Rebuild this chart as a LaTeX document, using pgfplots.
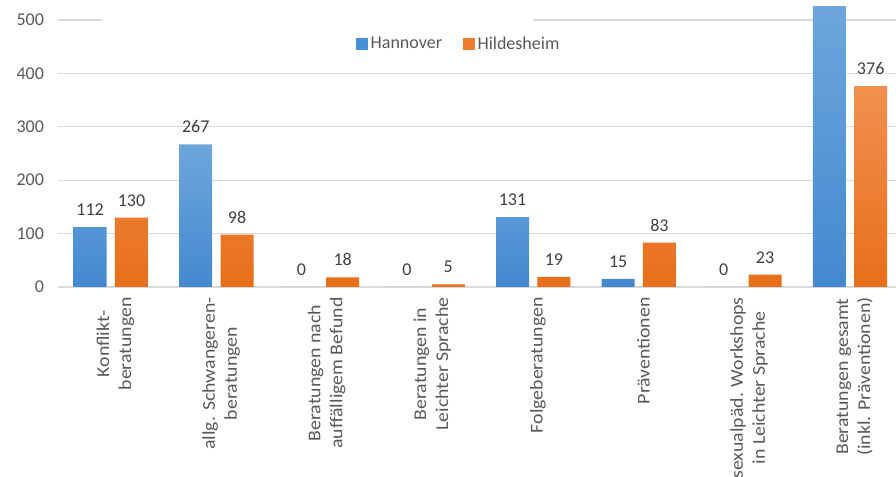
\documentclass[border=0pt]{standalone}
\usepackage{pgfplots}
\pgfplotsset{compat=1.18}
\usepackage{fontspec}
\setmainfont{Carlito}
\newfontfamily\stretchedfont[FakeStretch=1.1]{Carlito}
\definecolor{hbtop}{HTML}{6EA6DD}
\definecolor{hbbot}{HTML}{4389D0}
\definecolor{hotop}{HTML}{F28F50}
\definecolor{hobot}{HTML}{E86F1A}
\definecolor{legblue}{HTML}{4A90D9}
\definecolor{legorange}{HTML}{F07D2F}
\definecolor{gridgray}{HTML}{D9D9D9}
\definecolor{ticktext}{HTML}{595959}
\definecolor{valtext}{HTML}{404040}
\newcommand{\chartfont}{\fontsize{13.5}{16.5}\selectfont}

\begin{document}
\begin{tikzpicture}
% the reference is a crop: left part, right end and top are cut
\path[use as bounding box, clip] (-43.5pt,-142.5pt) rectangle (628.5pt,215.25pt);
\begin{axis}[
    x=79.2pt, y=0.4005pt,
    xmin=-0.5, xmax=7.5,
    ymin=0, ymax=537.5,
    axis line style={draw=none},
    tick style={draw=none},
    /pgf/number format/assume math mode=true,
    ytick={0,100,...,500},
    ymajorgrids,
    grid style={gridgray, line width=1pt},
    xtick={0,...,7},
    xticklabels={
        {Konflikt-\\beratungen},
        {allg. Schwangeren-\\beratungen},
        {Beratungen nach\\auffälligem Befund},
        {Beratungen in\\Leichter Sprache},
        {Folgeberatungen},
        {Präventionen},
        {sexualpäd. Workshops\\in Leichter Sprache},
        {Beratungen gesamt\\(inkl. Präventionen)}},
    every tick label/.append style={font=\chartfont, text=ticktext},
    xticklabel style={font=\stretchedfont\chartfont, rotate=90, anchor=east,
        align=center, yshift=-3.5pt},
    yticklabel style={xshift=-7pt},
    ybar, bar width=24.75pt,
    every node near coord/.append style={font=\chartfont, text=valtext, yshift=5pt},
    legend style={at={(axis cs:3.30,455)}, anchor=center, draw=none, fill=none,
        font=\chartfont, text=ticktext, legend columns=2,
        /tikz/every even column/.append style={column sep=14pt}},
]
\addplot[bar shift=-15.5pt, draw=none, top color=hbtop, bottom color=hbbot,
    nodes near coords, forget plot]
    coordinates {(0,112) (1,267) (2,0) (3,0) (4,131) (5,15) (6,0)};
% total bar runs out of the cropped picture, its label is not visible
\addplot[bar shift=-15.5pt, draw=none, top color=hbtop, bottom color=hbbot, forget plot]
    coordinates {(7,525)};
\addplot[bar shift=15.5pt, draw=none, top color=hotop, bottom color=hobot,
    nodes near coords, forget plot]
    coordinates {(0,130) (1,98) (2,18) (3,5) (4,19) (5,83) (6,23) (7,376)};
\fill[white] (axis cs:-0.083,480) rectangle (axis cs:3.998,520);
\addlegendimage{legend image code/.code={\fill[legblue] (1pt,-4.1pt) rectangle (9.25pt,4.1pt);}}
\addlegendentry{Hannover}
\addlegendimage{legend image code/.code={\fill[legorange] (1pt,-4.1pt) rectangle (9.25pt,4.1pt);}}
\addlegendentry{Hildesheim}
\end{axis}
\end{tikzpicture}
\end{document}
